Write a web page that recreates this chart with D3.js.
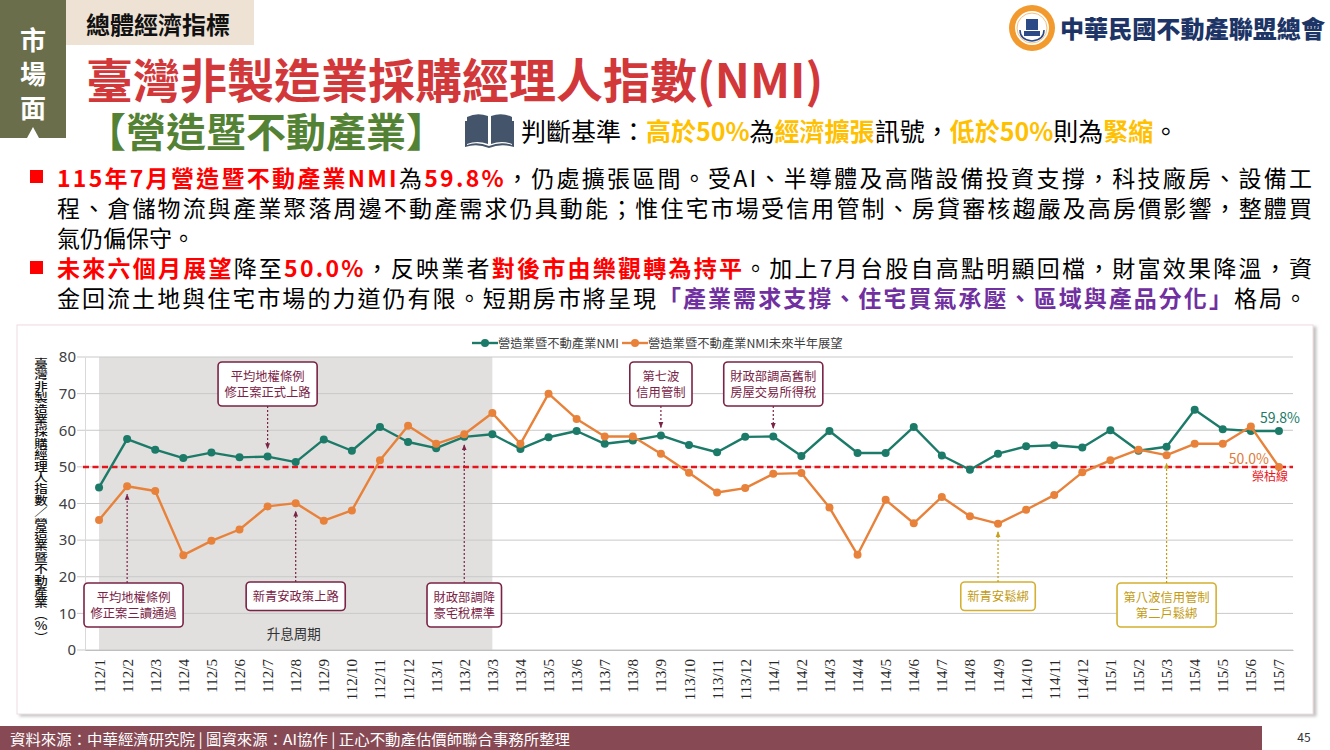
<!DOCTYPE html>
<html lang="zh-Hant">
<head>
  <meta charset="UTF-8">
  <title>臺灣非製造業採購經理人指數(NMI)</title>
  <style>
    body { margin: 0; background: #fff; }
    svg { display: block; }
    svg text { font-family: "Noto Sans CJK TC", "Noto Sans", sans-serif; }
  </style>
</head>
<body>
  <script src="https://d3js.org/d3.v7.min.js"></script>
  <div id="chart"></div>

  <script>
    // ---- data ----
    const months = [
      '112/1','112/2','112/3','112/4','112/5','112/6','112/7','112/8','112/9','112/10','112/11','112/12',
      '113/1','113/2','113/3','113/4','113/5','113/6','113/7','113/8','113/9','113/10','113/11','113/12',
      '114/1','114/2','114/3','114/4','114/5','114/6','114/7','114/8','114/9','114/10','114/11','114/12',
      '115/1','115/2','115/3','115/4','115/5','115/6','115/7'
    ]
    const nmi = [
      44.4, 57.6, 54.7, 52.4, 53.9, 52.6, 52.8, 51.3, 57.5, 54.4, 60.9, 56.8,
      55.1, 58.2, 58.9, 54.9, 58.1, 59.8, 56.3, 57.2, 58.6, 56.0, 54.0, 58.2,
      58.3, 53.0, 59.8, 53.8, 53.8, 60.9, 53.1, 49.2, 53.6, 55.6, 55.9, 55.3,
      60.0, 54.4, 55.5, 65.6, 60.3, 59.8, 59.8
    ]
    const outlook = [
      35.5, 44.7, 43.4, 25.9, 29.8, 32.9, 39.2, 40.1, 35.3, 38.1, 51.8, 61.2,
      56.3, 58.9, 64.7, 56.3, 70.0, 63.1, 58.3, 58.3, 53.6, 48.4, 43.0, 44.2,
      48.1, 48.3, 38.9, 26.0, 41.0, 34.6, 41.8, 36.5, 34.5, 38.3, 42.3, 48.5,
      51.8, 54.7, 53.2, 56.3, 56.3, 61.0, 50.0
    ]
    const yTicks = [0, 10, 20, 30, 40, 50, 60, 70, 80]
    const seriesNames = ['營造業暨不動產業NMI', '營造業暨不動產業NMI未來半年展望']
    const boomBust = 50
    const hikePeriod = ['112/1', '113/3']

    const events = [
      { month: '112/2', series: 'outlook', side: 'below', kind: 'policy', lines: ['平均地權條例', '修正案三讀通過'] },
      { month: '112/7', series: 'nmi',     side: 'above', kind: 'policy', lines: ['平均地權條例', '修正案正式上路'] },
      { month: '112/8', series: 'outlook', side: 'below', kind: 'policy', lines: ['新青安政策上路'] },
      { month: '113/2', series: 'nmi',     side: 'below', kind: 'policy', lines: ['財政部調降', '豪宅稅標準'] },
      { month: '113/9', series: 'nmi',     side: 'above', kind: 'policy', lines: ['第七波', '信用管制'] },
      { month: '114/1', series: 'nmi',     side: 'above', kind: 'policy', lines: ['財政部調高舊制', '房屋交易所得稅'] },
      { month: '114/9', series: 'outlook', side: 'below', kind: 'relax',  lines: ['新青安鬆綁'] },
      { month: '115/3', series: 'outlook', side: 'below', kind: 'relax',  lines: ['第八波信用管制', '第二戶鬆綁'] }
    ]

    // ---- page ----
    const svg = d3.select('#chart')
      .append('svg')
      .attr('width', 1330)
      .attr('height', 750)

    const defs = svg.append('defs')
    defs.append('filter').attr('id', 'shadow').attr('x', '-5%').attr('y', '-5%').attr('width', '110%').attr('height', '115%')
      .append('feDropShadow').attr('dx', 3).attr('dy', 2).attr('stdDeviation', 1.5).attr('flood-color', '#999').attr('flood-opacity', 0.6)
    const arrowColors = { policy: '#7a2346', relax: '#c9a21b' }
    Object.entries(arrowColors).forEach(([k, c]) => {
      defs.append('marker').attr('id', 'arr-' + k)
        .attr('viewBox', '0 0 10 10').attr('refX', 9).attr('refY', 5)
        .attr('markerWidth', 5).attr('markerHeight', 5).attr('orient', 'auto')
        .append('path').attr('d', 'M0,1L10,5L0,9Z').attr('fill', c)
    })

    // header tab
    svg.append('rect').attr('x', 0).attr('y', 0).attr('width', 66).attr('height', 138).attr('fill', '#6b6e4b')
    svg.selectAll('.tab').data(['市', '場', '面']).join('text')
      .attr('x', 33).attr('y', (d, i) => 38 + i * 34)
      .attr('text-anchor', 'middle').attr('dominant-baseline', 'central')
      .attr('font-size', 26).attr('font-weight', 700).attr('fill', '#fff').text(d => d)
    svg.append('path').attr('d', 'M27,138L33,127L39,138Z').attr('fill', '#fff')

    svg.append('rect').attr('x', 66).attr('y', 0).attr('width', 188).attr('height', 45).attr('fill', '#ede2d4')
    svg.append('text').attr('x', 86).attr('y', 23).attr('dominant-baseline', 'central')
      .attr('font-size', 24).attr('font-weight', 700).attr('fill', '#111').text('總體經濟指標')

    svg.append('text').attr('x', 86).attr('y', 77).attr('dominant-baseline', 'central')
      .attr('font-size', 47).attr('font-weight', 700).attr('fill', '#d2383a')
      .text('臺灣非製造業採購經理人指數(NMI)')

    svg.append('text').attr('x', 86).attr('y', 130).attr('dominant-baseline', 'central')
      .attr('font-size', 40).attr('font-weight', 700).attr('fill', '#548235')
      .text('【營造暨不動產業】')

    // book icon
    const book = svg.append('g').attr('fill', '#44546a')
    book.append('path').attr('d', 'M467,117 Q477,112 488,116 L488,144 Q477,140 467,144 Z')
    book.append('path').attr('d', 'M491,116 Q502,112 512,117 L512,144 Q502,140 491,144 Z')
    book.append('path').attr('d', 'M465,121 L465,147 Q477,143 489,148 Q501,143 514,147 L514,121 L512,121 L512,145 Q501,141 489,146 Q477,141 467,145 L467,121 Z')

    function richText(x, y, size, parts, width) {
      const t = svg.append('text').attr('x', x).attr('y', y)
        .attr('dominant-baseline', 'central').attr('font-size', size)
      parts.forEach(([s, c, b]) => {
        t.append('tspan').attr('dominant-baseline', 'central')
          .attr('fill', c).attr('font-weight', b ? 700 : 400).text(s)
      })
      if (width) t.attr('textLength', width).attr('lengthAdjust', 'spacing')
      return t
    }
    const K = '#000', R = '#ff0000', Y = '#ffc000', P = '#7030a0'

    richText(521, 130, 25, [
      ['判斷基準：', K], ['高於50%', Y, 1], ['為', K], ['經濟擴張', Y, 1], ['訊號，', K],
      ['低於50%', Y, 1], ['則為', K], ['緊縮', Y, 1], ['。', K]
    ])

    // bullets
    svg.selectAll('.bullet').data([170, 261]).join('rect')
      .attr('x', 30).attr('y', d => d).attr('width', 13).attr('height', 13).attr('fill', '#ff0000')

    richText(57, 177, 23, [
      ['115年7月營造暨不動產業NMI', R, 1], ['為', K], ['59.8%', R, 1],
      ['，仍處擴張區間。受AI、半導體及高階設備投資支撐，科技廠房、設備工', K]
    ], 1255)
    richText(57, 207, 23, [
      ['程、倉儲物流與產業聚落周邊不動產需求仍具動能；惟住宅市場受信用管制、房貸審核趨嚴及高房價影響，整體買', K]
    ], 1255)
    richText(57, 237, 23, [['氣仍偏保守。', K]])
    richText(57, 267, 23, [
      ['未來六個月展望', R, 1], ['降至', K], ['50.0%', R, 1], ['，反映業者', K],
      ['對後市由樂觀轉為持平', R, 1], ['。加上7月台股自高點明顯回檔，財富效果降溫，資', K]
    ], 1255)
    richText(57, 297, 23, [
      ['金回流土地與住宅市場的力道仍有限。短期房市將呈現', K],
      ['「產業需求支撐、住宅買氣承壓、區域與產品分化」', P, 1], ['格局。', K]
    ], 1250)

    // logo
    const logo = svg.append('g').attr('transform', 'translate(1032,28)')
    logo.append('circle').attr('r', 23).attr('fill', '#f29a2e')
    logo.append('circle').attr('r', 17).attr('fill', '#fff')
    logo.append('circle').attr('r', 15).attr('fill', 'none').attr('stroke', '#f6c27a').attr('stroke-width', 1)
    logo.append('rect').attr('x', -6).attr('y', -9).attr('width', 12).attr('height', 11).attr('fill', '#2b4a86')
    logo.append('rect').attr('x', -8).attr('y', 3).attr('width', 16).attr('height', 5).attr('fill', '#2b4a86')
    logo.append('path').attr('d', 'M-12,2 Q-12,12 0,13 Q12,12 12,2').attr('fill', 'none').attr('stroke', '#2b4a86').attr('stroke-width', 1.5)
    svg.append('text').attr('x', 1060).attr('y', 27).attr('dominant-baseline', 'central')
      .attr('font-size', 24).attr('font-weight', 900).attr('fill', '#1d3566')
      .attr('textLength', 265).attr('lengthAdjust', 'spacingAndGlyphs')
      .text('中華民國不動產聯盟總會')

    // footer
    svg.append('rect').attr('x', 0).attr('y', 726).attr('width', 1262).attr('height', 24).attr('fill', '#874a55')
    svg.append('text').attr('x', 10).attr('y', 738).attr('dominant-baseline', 'central')
      .attr('font-size', 15).attr('fill', '#fff').attr('textLength', 560).attr('lengthAdjust', 'spacingAndGlyphs')
      .text('資料來源：中華經濟研究院 | 圖資來源：AI協作 | 正心不動產估價師聯合事務所整理')
    svg.append('text').attr('x', 1304).attr('y', 736).attr('text-anchor', 'middle').attr('dominant-baseline', 'central')
      .attr('font-size', 12).attr('fill', '#333').text('45')

    // ---- chart ----
    svg.append('rect').attr('x', 17).attr('y', 325).attr('width', 1296).attr('height', 389)
      .attr('fill', '#fff').attr('stroke', '#ecdcdf').attr('filter', 'url(#shadow)')

    const x = d3.scalePoint().domain(months).range([85, 1293]).padding(0.5)
    const y = d3.scaleLinear().domain([0, 80]).range([650, 357])
    const plot = svg.append('g')

    // rate-hike shading
    plot.append('rect')
      .attr('x', x(hikePeriod[0])).attr('y', y(80))
      .attr('width', x(hikePeriod[1]) - x(hikePeriod[0])).attr('height', y(0) - y(80))
      .attr('fill', '#e1e0de')
    plot.append('text').attr('x', (x(hikePeriod[0]) + x(hikePeriod[1])) / 2 - 2).attr('y', 633)
      .attr('text-anchor', 'middle').attr('dominant-baseline', 'central')
      .attr('font-size', 13.5).attr('fill', '#333').text('升息周期')

    // gridlines
    plot.selectAll('.grid').data(yTicks).join('line')
      .attr('x1', 77).attr('x2', 1293).attr('y1', d => y(d)).attr('y2', d => y(d))
      .attr('stroke', '#c9c9c9').attr('stroke-width', 1)

    const yAxis = plot.append('g').attr('transform', 'translate(85,0)')
      .call(d3.axisLeft(y).tickValues(yTicks).tickSize(0).tickPadding(9))
    yAxis.select('.domain').attr('stroke', '#d9d9d9')
    yAxis.selectAll('text').attr('font-size', 15).attr('fill', '#404040')
      .style('font-family', '"Noto Sans", "DejaVu Sans", sans-serif')

    const xAxis = plot.append('g').attr('transform', 'translate(0,650)')
      .call(d3.axisBottom(x).tickSize(0))
    xAxis.select('.domain').attr('stroke', '#bfbfbf')
    xAxis.selectAll('text')
      .attr('transform', 'translate(0,9) rotate(-90)')
      .attr('x', 0).attr('y', 0).attr('dy', null)
      .attr('text-anchor', 'end').attr('dominant-baseline', 'central')
      .attr('font-size', 15).attr('fill', '#262626')
      .style('font-family', '"Liberation Serif", "DejaVu Serif", serif')

    // y title (vertical)
    svg.append('text').attr('x', 41).attr('y', 358)
      .style('writing-mode', 'vertical-rl').style('text-orientation', 'upright')
      .attr('font-size', 13.5).attr('font-weight', 500).attr('fill', '#111')
      .attr('textLength', 285).attr('lengthAdjust', 'spacingAndGlyphs')
      .text('臺灣非製造業採購經理人指數／營造業暨不動產業（%）')

    // boom-bust line
    plot.append('line')
      .attr('x1', 83).attr('x2', 1293).attr('y1', y(boomBust)).attr('y2', y(boomBust))
      .attr('stroke', '#e8141c').attr('stroke-width', 2.5).attr('stroke-dasharray', '6,3.5')

    // series
    const seriesData = { nmi, outlook }
    const colors = { nmi: '#1c7a68', outlook: '#e8823a' }
    const line = d3.line().x((d, i) => x(months[i])).y(d => y(d))
    ;['nmi', 'outlook'].forEach(key => {
      plot.append('path').datum(seriesData[key])
        .attr('d', line).attr('fill', 'none')
        .attr('stroke', colors[key]).attr('stroke-width', 2.4).attr('stroke-linejoin', 'round')
      plot.selectAll('.pt-' + key).data(seriesData[key]).join('circle')
        .attr('cx', (d, i) => x(months[i])).attr('cy', d => y(d)).attr('r', 4)
        .attr('fill', colors[key])
    })

    // end labels
    const last = months.length - 1
    plot.append('text').attr('x', x(months[last]) + 1).attr('y', y(nmi[last]) - 14)
      .attr('text-anchor', 'middle').attr('dominant-baseline', 'central')
      .attr('font-size', 14).attr('fill', colors.nmi).text(nmi[last].toFixed(1) + '%')
    plot.append('text').attr('x', x(months[last]) - 10).attr('y', y(outlook[last]) - 9)
      .attr('text-anchor', 'end').attr('dominant-baseline', 'central')
      .attr('font-size', 14).attr('fill', '#e07b39').text(outlook[last].toFixed(1) + '%')
    plot.append('text').attr('x', 1270).attr('y', y(boomBust) + 9)
      .attr('text-anchor', 'middle').attr('dominant-baseline', 'central')
      .attr('font-size', 12).attr('fill', '#e8141c').text('榮枯線')

    // legend
    const legend = svg.append('g').attr('transform', 'translate(0,343)')
    const legX = [472, 622]
    ;['nmi', 'outlook'].forEach((key, i) => {
      const lg = legend.append('g').attr('transform', `translate(${legX[i]},0)`)
      lg.append('line').attr('x1', 0).attr('x2', 26).attr('stroke', colors[key]).attr('stroke-width', 2.4)
      lg.append('circle').attr('cx', 13).attr('r', 4).attr('fill', colors[key])
      lg.append('text').attr('x', 26).attr('dominant-baseline', 'central')
        .attr('font-size', 12.3).attr('fill', '#404040').text(seriesNames[i])
    })

    // event annotations
    const ann = svg.append('g')
    const textCol = { policy: '#7a2346', relax: '#c39b12' }
    const boxCol = { policy: '#7a2346', relax: '#d4b030' }
    events.forEach(ev => {
      const ex = x(ev.month)
      const val = seriesData[ev.series][months.indexOf(ev.month)]
      const g = ann.append('g')
      const rect = g.append('rect')
      const texts = ev.lines.map(l => g.append('text').attr('text-anchor', 'middle')
        .attr('dominant-baseline', 'central').attr('font-size', 12.3)
        .attr('fill', textCol[ev.kind]).text(l))
      const tw = d3.max(texts, t => t.node().getComputedTextLength())
      const bw = tw + 13
      const bh = ev.lines.length * 15.5 + 13
      const bx = Math.max(84, ex - bw / 2)
      const by = ev.side === 'above' ? 362 : (ev.lines.length > 1 ? 583 : 582)
      rect.attr('x', bx).attr('y', by).attr('width', bw).attr('height', bh).attr('rx', 4)
        .attr('fill', '#fff').attr('stroke', boxCol[ev.kind]).attr('stroke-width', 1.6)
      texts.forEach((t, i) => t.attr('x', bx + bw / 2).attr('y', by + 14 + i * 15.5))
      const y1 = ev.side === 'above' ? by + bh : by
      const y2 = ev.side === 'above' ? y(val) - 8 : y(val) + 8
      g.append('line').attr('x1', ex).attr('x2', ex).attr('y1', y1).attr('y2', y2)
        .attr('stroke', textCol[ev.kind]).attr('stroke-width', 1.2).attr('stroke-dasharray', '2,2')
        .attr('marker-end', `url(#arr-${ev.kind})`)
    })
  </script>
</body>
</html>
